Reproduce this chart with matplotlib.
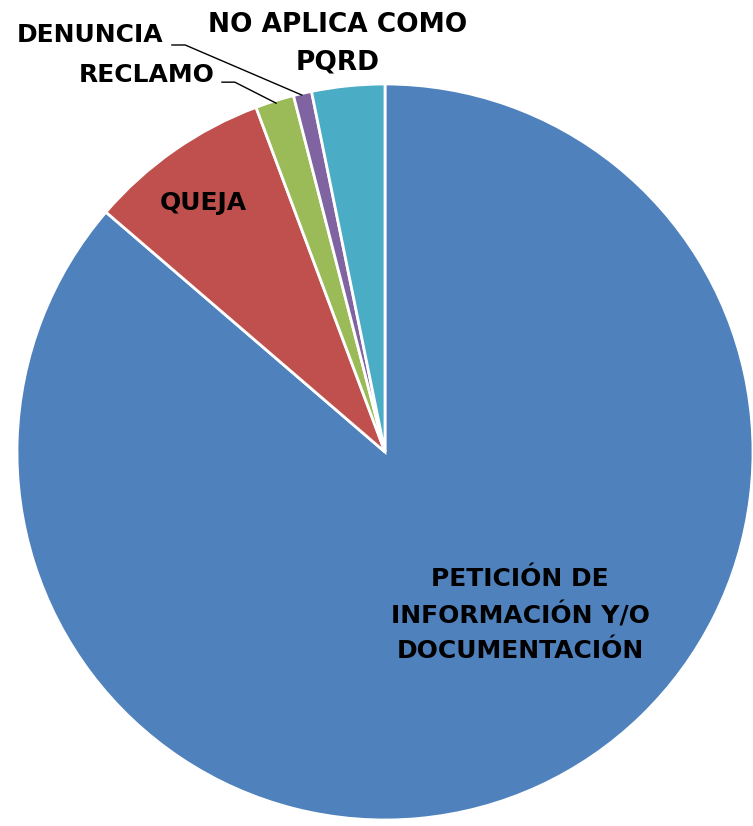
import matplotlib
matplotlib.use("Agg")
import matplotlib.pyplot as plt

categories = ["PETICIÓN DE\nINFORMACIÓN Y/O\nDOCUMENTACIÓN", "QUEJA", "RECLAMO", "DENUNCIA", "NO APLICA COMO\nPQRD"]
values = [86.3, 8.0, 1.7, 0.8, 3.2]
colors = ["#4F81BD", "#C0504D", "#9BBB59", "#8064A2", "#4BACC6"]

W, H = 753, 826
fig = plt.figure(figsize=(W / 100, H / 100), dpi=100)
cx, cy, R = 385, 452, 368
ax = fig.add_axes([(cx - R) / W, (H - cy - R) / H, 2 * R / W, 2 * R / H])
ax.pie(values, colors=colors, startangle=90, counterclock=False, radius=1,
       wedgeprops=dict(edgecolor="white", linewidth=2))
ax.set_xlim(-1, 1)
ax.set_ylim(-1, 1)
ax.set_aspect("equal")
ax.axis("off")

fp = dict(fontsize=18, fontweight="bold", color="black", family="DejaVu Sans", clip_on=False)
ax.text(0.367, -0.443, categories[0], ha="center", va="center", linespacing=1.55, **fp)
ax.text(-0.495, 0.677, categories[1], ha="center", va="center", **fp)
ax.text(-0.130, 1.109, categories[4], ha="center", va="center", linespacing=1.6,
        **{**fp, "fontsize": 19})
ax.text(-0.462, 1.024, categories[2], ha="right", va="center", **fp)
ax.text(-0.603, 1.133, categories[3], ha="right", va="center", **fp)

ax.plot([-0.579, -0.543, -0.226], [1.106, 1.106, 0.970], color="black", lw=1, clip_on=False)
ax.plot([-0.443, -0.408, -0.296], [1.005, 1.005, 0.948], color="black", lw=1, clip_on=False)

fig.savefig("out.png", dpi=100)
